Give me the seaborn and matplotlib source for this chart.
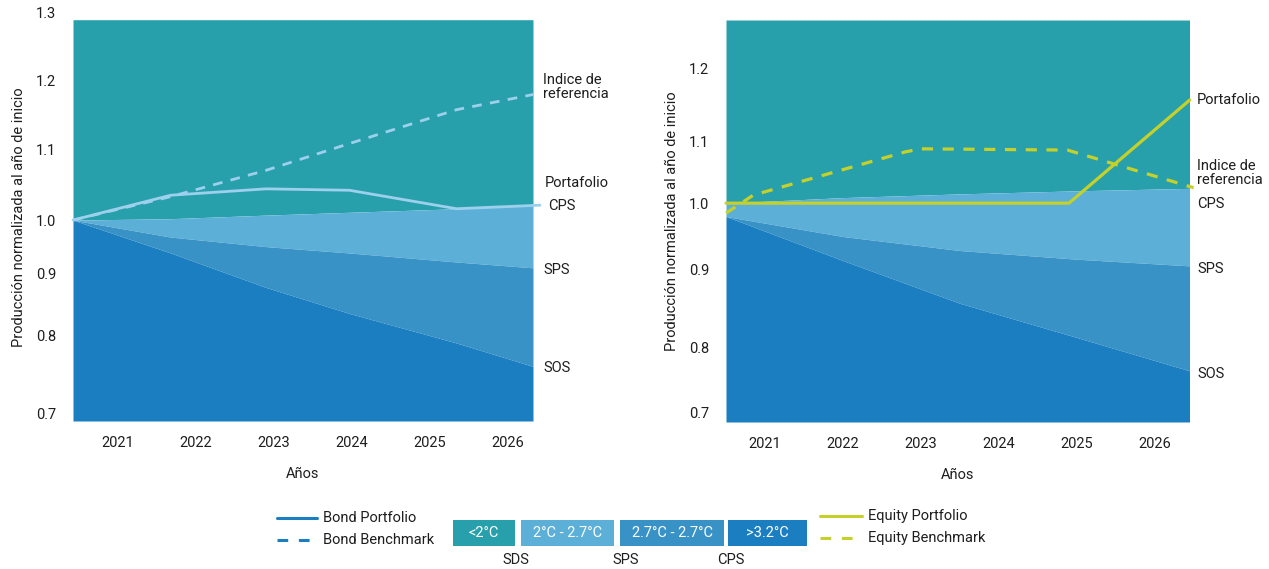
import numpy as np
import pandas as pd
import matplotlib
matplotlib.use("Agg")
import matplotlib.pyplot as plt
import matplotlib.transforms as mtransforms
from matplotlib.patches import Rectangle
from matplotlib.lines import Line2D
import seaborn as sns

# ------------------------------------------------------------------ data
# Left panel: bonds
bond_years = [2020.43, 2021.68, 2022.90, 2023.97, 2025.34, 2026.41]
bond_portfolio = [1.000, 1.035, 1.044, 1.042, 1.016, 1.021]
bond_benchmark = [1.000, 1.033, 1.070, 1.108, 1.157, 1.181]

bond_band_years = [2020.43, 2021.68, 2022.90, 2023.97, 2025.34, 2026.32]
bond_cps = [1.000, 1.002, 1.007, 1.011, 1.016, 1.020]
bond_sps = [1.000, 0.968, 0.950, 0.938, 0.921, 0.910]
bond_sos = [1.000, 0.938, 0.877, 0.835, 0.790, 0.760]
bond_top, bond_bottom = 1.29, 0.69

# Right panel: equities
eq_port_years = [2020.50, 2024.90, 2026.45]
eq_portfolio = [1.000, 1.000, 1.157]
eq_bench_years = [2020.50, 2020.85, 2022.80, 2023.00, 2024.88, 2026.50]
eq_benchmark = [0.985, 1.013, 1.083, 1.088, 1.086, 1.025]

eq_band_years = [2020.50, 2022.00, 2023.50, 2025.00, 2026.45]
eq_cps = [1.000, 1.009, 1.015, 1.020, 1.024]
eq_sps = [0.980, 0.950, 0.929, 0.916, 0.906]
eq_sos = [0.980, 0.914, 0.857, 0.813, 0.764]
eq_top, eq_bottom = 1.267, 0.685

years = [2021, 2022, 2023, 2024, 2025, 2026]
left_ticks = [0.7, 0.8, 0.9, 1.0, 1.1, 1.2, 1.3]
right_ticks = [0.7, 0.8, 0.9, 1.0, 1.1, 1.2]
# the original axis is irregular: printed height of each tick above the 0.7 tick
left_tick_height = [0, 78, 140, 193, 264, 333, 400]
right_tick_height = [0, 65, 143, 210, 272, 345]

band_colors = {"SDS": "#28a0ab", "SPS": "#5cb0d8", "CPS": "#3892c6", "SOS": "#1a7ec1"}
bond_line_color = "#9dd0ec"
eq_line_color = "#c5d12a"
legend_blue = "#1a7ec1"

# ------------------------------------------------------------------ style
sns.set_theme(style="white")
plt.rcParams["font.family"] = ["Roboto", "DejaVu Sans"]
plt.rcParams["text.color"] = "#1e1e1e"

W, H = 1269, 569
fig = plt.figure(figsize=(W / 100, H / 100), dpi=100)


def fx(px):
    return px / W


def fy(py):
    return 1 - py / H


def irregular_scale(ax, ticks, heights):
    step_lo = heights[1] - heights[0]
    step_hi = heights[-1] - heights[-2]
    v = np.array([ticks[0] - 0.1] + list(ticks) + [ticks[-1] + 0.1])
    h = np.array([heights[0] - step_lo] + list(heights) + [heights[-1] + step_hi], float)

    def fwd(x):
        return np.interp(x, v, h)

    def inv(y):
        return np.interp(y, h, v)

    ax.set_yscale("function", functions=(fwd, inv))


def setup_panel(ax, ticks, heights, ylim, xlim):
    irregular_scale(ax, ticks, heights)
    ax.set_ylim(*ylim)
    ax.set_xlim(*xlim)
    ax.set_yticks(ticks)
    ax.set_yticklabels([f"{t:.1f}" for t in ticks])
    ax.set_xticks(years)
    ax.set_xticklabels([str(y) for y in years])
    ax.tick_params(axis="both", length=0, labelsize=10.5, colors="#1e1e1e")
    ax.tick_params(axis="y", pad=12)
    ax.tick_params(axis="x", pad=11)
    for s in ax.spines.values():
        s.set_visible(False)
    ax.minorticks_off()


def axis_titles(ax):
    ax.set_xlabel("Años", fontsize=10.5, labelpad=12, color="#1e1e1e")
    ax.set_ylabel("Producción normalizada al año de inicio", fontsize=10.5,
                  labelpad=7, color="#1e1e1e")


def draw_bands(ax, x, cps, sps, sos, top, bottom):
    ax.fill_between(x, cps, top, color=band_colors["SDS"], lw=0)
    ax.fill_between(x, sps, cps, color=band_colors["SPS"], lw=0)
    ax.fill_between(x, sos, sps, color=band_colors["CPS"], lw=0)
    ax.fill_between(x, bottom, sos, color=band_colors["SOS"], lw=0)


def end_label(ax, text, yval, dx_px, dy_px, ha="left"):
    trans = mtransforms.blended_transform_factory(ax.transAxes, ax.transData)
    ax.annotate(text, xy=(1, yval), xycoords=trans,
                xytext=(dx_px * 0.72, dy_px * 0.72), textcoords="offset points",
                ha=ha, va="center", fontsize=10.5, color="#1e1e1e",
                linespacing=1.0, annotation_clip=False)


# ------------------------------------------------------------------ left panel
axL = fig.add_axes([fx(73), fy(421), fx(533) - fx(73), fy(13) - fy(421)])
setup_panel(axL, left_ticks, left_tick_height, (bond_bottom, 1.3), (2020.43, 2026.32))
draw_bands(axL, bond_band_years, bond_cps, bond_sps, bond_sos, bond_top, bond_bottom)

bond_df = pd.DataFrame({"year": bond_years, "portfolio": bond_portfolio,
                        "benchmark": bond_benchmark})
sns.lineplot(data=bond_df, x="year", y="benchmark", ax=axL, color=bond_line_color,
             lw=2.0)
axL.lines[-1].set_dashes([3.5, 3])
sns.lineplot(data=bond_df, x="year", y="portfolio", ax=axL, color=bond_line_color,
             lw=2.0)
axL.lines[-1].set_clip_on(False)
axis_titles(axL)

end_label(axL, "Indice de\nreferencia", bond_benchmark[-1], 10, 6)
end_label(axL, "Portafolio", bond_portfolio[-1], 12, 22)
end_label(axL, "CPS", bond_cps[-1], 15, 0)
end_label(axL, "SPS", bond_sps[-1], 10, -2)
end_label(axL, "SOS", bond_sos[-1], 10, -2)

# ------------------------------------------------------------------ right panel
axR = fig.add_axes([fx(726), fy(422), fx(1189) - fx(726), fy(20) - fy(422)])
setup_panel(axR, right_ticks, right_tick_height, (eq_bottom, eq_top), (2020.50, 2026.44))
draw_bands(axR, eq_band_years, eq_cps, eq_sps, eq_sos, eq_top, eq_bottom)

eq_p = pd.DataFrame({"year": eq_port_years, "value": eq_portfolio})
eq_b = pd.DataFrame({"year": eq_bench_years, "value": eq_benchmark})
sns.lineplot(data=eq_b, x="year", y="value", ax=axR, color=eq_line_color, lw=2.3)
axR.lines[-1].set_dashes([3.5, 3])
axR.lines[-1].set_clip_on(False)
sns.lineplot(data=eq_p, x="year", y="value", ax=axR, color=eq_line_color, lw=2.3)
axR.lines[-1].set_clip_on(False)
axis_titles(axR)

end_label(axR, "Portafolio", eq_portfolio[-1], 8, 0)
end_label(axR, "Indice de\nreferencia", eq_benchmark[-1], 8, 15)
end_label(axR, "CPS", eq_cps[-1], 8, -16)
end_label(axR, "SPS", eq_sps[-1], 8, -3)
end_label(axR, "SOS", eq_sos[-1], 8, -3)

# ------------------------------------------------------------------ legend
def legend_line(x0, x1, y, color, dashed, label):
    ln = Line2D([fx(x0), fx(x1)], [fy(y), fy(y)], transform=fig.transFigure,
                color=color, lw=2.2)
    if dashed:
        ln.set_dashes([3.5, 3.5])
    fig.add_artist(ln)
    fig.text(fx(x1 + 6), fy(y), label, ha="left", va="center", fontsize=10.5,
             color="#1e1e1e")


legend_line(277, 317, 518, legend_blue, False, "Bond Portfolio")
legend_line(277, 317, 540, legend_blue, True, "Bond Benchmark")
legend_line(820, 862, 516, eq_line_color, False, "Equity Portfolio")
legend_line(820, 862, 538, eq_line_color, True, "Equity Benchmark")

boxes = [(453, 515, "<2°C", band_colors["SDS"]),
         (521, 614, "2°C - 2.7°C", band_colors["SPS"]),
         (620, 724, "2.7°C - 2.7°C", band_colors["CPS"]),
         (728, 807, ">3.2°C", band_colors["SOS"])]
for x0, x1, txt, col in boxes:
    fig.add_artist(Rectangle((fx(x0), fy(546)), fx(x1) - fx(x0), fy(520) - fy(546),
                             transform=fig.transFigure, color=col, lw=0))
    fig.text(fx((x0 + x1) / 2), fy(533), txt, ha="center", va="center",
             fontsize=10.5, color="white")

for xc, txt in [(516, "SDS"), (626, "SPS"), (731, "CPS")]:
    fig.text(fx(xc), fy(560), txt, ha="center", va="center", fontsize=10.5,
             color="#1e1e1e")

fig.savefig("out.png", dpi=100, facecolor="white")
